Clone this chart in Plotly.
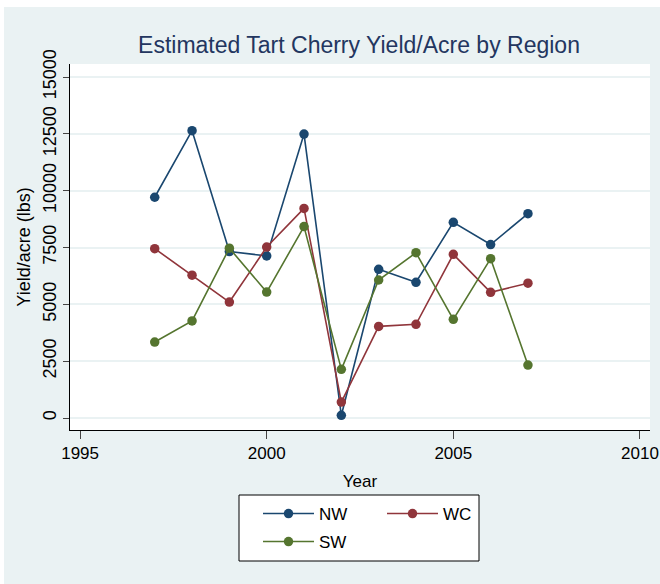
import plotly.graph_objects as go

years = [1997, 1998, 1999, 2000, 2001, 2002, 2003, 2004, 2005, 2006, 2007]
nw = [9710, 12640, 7320, 7130, 12490, 120, 6540, 5970, 8610, 7630, 8990]
wc = [7450, 6280, 5100, 7520, 9220, 700, 4030, 4120, 7200, 5530, 5930]
sw = [3340, 4270, 7470, 5540, 8420, 2140, 6070, 7270, 4340, 7010, 2330]

series_names = ["NW", "WC", "SW"]
series_values = [nw, wc, sw]
series_colors = ["#1a476f", "#90353b", "#55752f"]

x_ticks = [1995, 2000, 2005, 2010]
y_ticks = [0, 2500, 5000, 7500, 10000, 12500, 15000]
y_tick_labels = ["0", "2500", "5000", "7500", "10000", "12500", "15000"]

FONT = "Liberation Sans, Arial, Helvetica, sans-serif"
BG = "#eaf2f3"

W, H = 660, 584
ML, MR, MT, MB = 70, 10, 64, 584 - 430
PW, PH = W - ML - MR, H - MT - MB


def px(x):  # page x -> paper x
    return (x - ML) / PW


def py(y):  # page y -> paper y
    return (H - MB - y) / PH


fig = go.Figure()
legend_ids = ["legend", "legend2", "legend3"]
for name, vals, col, lg in zip(series_names, series_values, series_colors, legend_ids):
    fig.add_trace(go.Scatter(
        x=years, y=vals, name=name, mode="lines+markers",
        line=dict(color=col, width=1.6),
        marker=dict(color=col, size=9.5),
        legend=lg, showlegend=True,
    ))

leg_common = dict(
    orientation="v", bgcolor="rgba(0,0,0,0)", borderwidth=0,
    font=dict(family=FONT, size=17, color="#000"),
    xanchor="left", yanchor="middle",
    xref="paper", yref="paper", itemwidth=51, visible=True,
)

fig.update_layout(
    width=W, height=H,
    showlegend=True,
    margin=dict(l=ML, r=MR, t=MT, b=MB, autoexpand=False),
    paper_bgcolor=BG,
    plot_bgcolor="#ffffff",
    font=dict(family=FONT, size=17, color="#000"),
    title=dict(
        text="Estimated Tart Cherry Yield/Acre by Region",
        font=dict(family=FONT, size=23, color="#233660"),
        x=px(359), xanchor="center", xref="paper",
        y=1 - 45 / H, yanchor="middle", yref="container",
    ),
    xaxis=dict(
        range=[1994.73, 2010.27], tickvals=x_ticks,
        ticks="outside", ticklen=8, tickcolor="#444", tickwidth=1,
        showline=True, linecolor="#000", linewidth=1,
        showgrid=False, zeroline=False, ticklabeloverflow="allow",
        tickfont=dict(family=FONT, size=17, color="#000"),
        title=dict(text="Year", font=dict(family=FONT, size=17, color="#000"), standoff=12),
        automargin=False,
    ),
    yaxis=dict(
        range=[-528, 15572], tickvals=y_ticks, ticktext=y_tick_labels,
        ticks="outside", ticklen=6, tickcolor="#444", tickwidth=1,
        showline=True, linecolor="#000", linewidth=1,
        showgrid=True, gridcolor=BG, gridwidth=2,
        zeroline=False, tickangle=-90,
        tickfont=dict(family=FONT, size=18, color="#000"),
        title=dict(text="Yield/acre (lbs)", font=dict(family=FONT, size=18, color="#000"), standoff=4),
        automargin=False,
    ),
    legend=dict(x=px(258), y=py(514), **leg_common),
    legend2=dict(x=px(382), y=py(514), **leg_common),
    legend3=dict(x=px(258), y=py(542), **leg_common),
    shapes=[
        dict(type="rect", xref="paper", yref="paper",
             x0=px(239), x1=px(479), y0=py(561), y1=py(495),
             line=dict(color="#000", width=1), fillcolor="#ffffff", layer="below"),
        dict(type="rect", xref="paper", yref="paper",
             x0=px(0), x1=px(4), y0=py(H), y1=py(0),
             line=dict(width=0), fillcolor="#ffffff", layer="below"),
        dict(type="rect", xref="paper", yref="paper",
             x0=px(0), x1=px(W), y0=py(7), y1=py(0),
             line=dict(width=0), fillcolor="#ffffff", layer="below"),
    ],
)

fig.write_html(
    "out.html",
    config={"displayModeBar": False},
    post_script="document.body.style.margin='0';document.body.style.overflow='hidden';",
)
